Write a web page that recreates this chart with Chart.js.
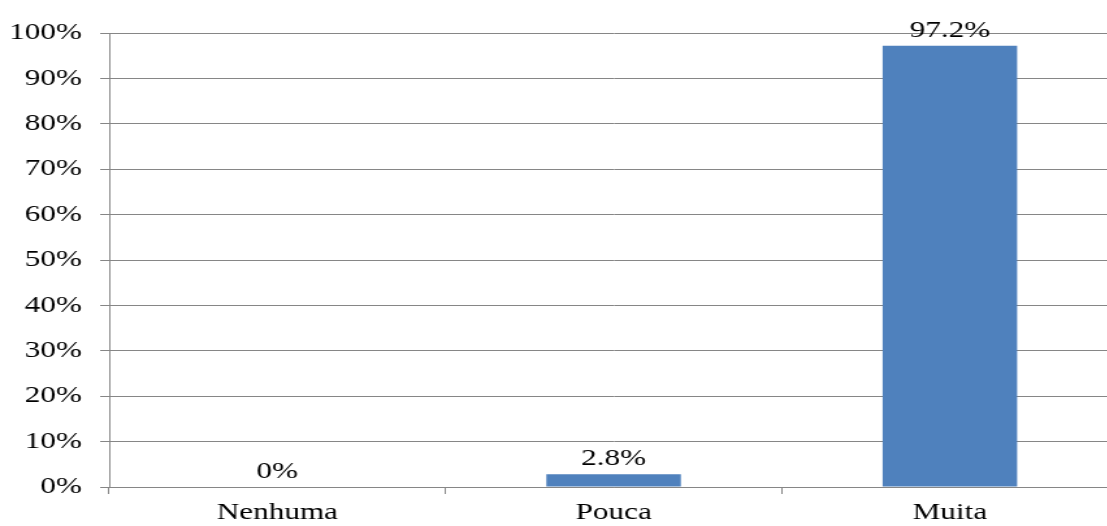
<!DOCTYPE html>
<html>
<head>
<meta charset="utf-8">
<script src="https://cdn.jsdelivr.net/npm/chart.js@4"></script>
<style>
  html, body { margin: 0; padding: 0; background: #fff; overflow: hidden; }
</style>
</head>
<body>
<!-- drawn narrower and stretched wide by CSS, like the original's wide text -->
<canvas id="chart" width="860" height="526" style="display:block;width:1118px;height:526px"></canvas>
<script>
const categories = ['Nenhuma', 'Pouca', 'Muita'];
const values = [0, 2.8, 97.2];
const valueLabels = ['0%', '2.8%', '97.2%'];

const serif = "'Liberation Serif', 'Times New Roman', serif";

// value labels above each bar
const barLabels = {
  id: 'barLabels',
  afterDatasetsDraw(chart) {
    const ctx = chart.ctx;
    const meta = chart.getDatasetMeta(0);
    ctx.save();
    ctx.font = '24px ' + serif;
    ctx.fillStyle = '#000';
    ctx.textAlign = 'center';
    ctx.textBaseline = 'alphabetic';
    meta.data.forEach((bar, i) => {
      ctx.fillText(valueLabels[i], bar.x, bar.y - 9);
    });
    ctx.restore();
  }
};

const ctx = document.getElementById('chart').getContext('2d');
const chart = new Chart(ctx, {
  type: 'bar',
  data: {
    labels: categories,
    datasets: [{
      data: values,
      backgroundColor: '#4F81BD',
      borderWidth: 0,
      categoryPercentage: 1,
      barPercentage: 0.4
    }]
  },
  options: {
    responsive: false,
    animation: false,
    layout: { padding: { top: 33, right: 0, left: 0, bottom: 0 } },
    plugins: { legend: { display: false }, tooltip: { enabled: false } },
    scales: {
      x: {
        grid: { drawOnChartArea: false, drawTicks: true, tickLength: 7, color: '#868686', offset: true },
        border: { color: '#868686' },
        ticks: { color: '#000', font: { family: serif, size: 24 }, padding: 4, maxRotation: 0 },
        afterFit: (s) => { s.height = 39; }
      },
      y: {
        min: 0,
        max: 100,
        grid: { color: '#868686', tickLength: 7 },
        border: { color: '#868686' },
        ticks: {
          stepSize: 10,
          color: '#000',
          font: { family: serif, size: 24 },
          padding: 14,
          callback: (v) => v + '%'
        },
        afterFit: (s) => { s.width = 84; }
      }
    }
  },
  plugins: [barLabels]
});
</script>
</body>
</html>
